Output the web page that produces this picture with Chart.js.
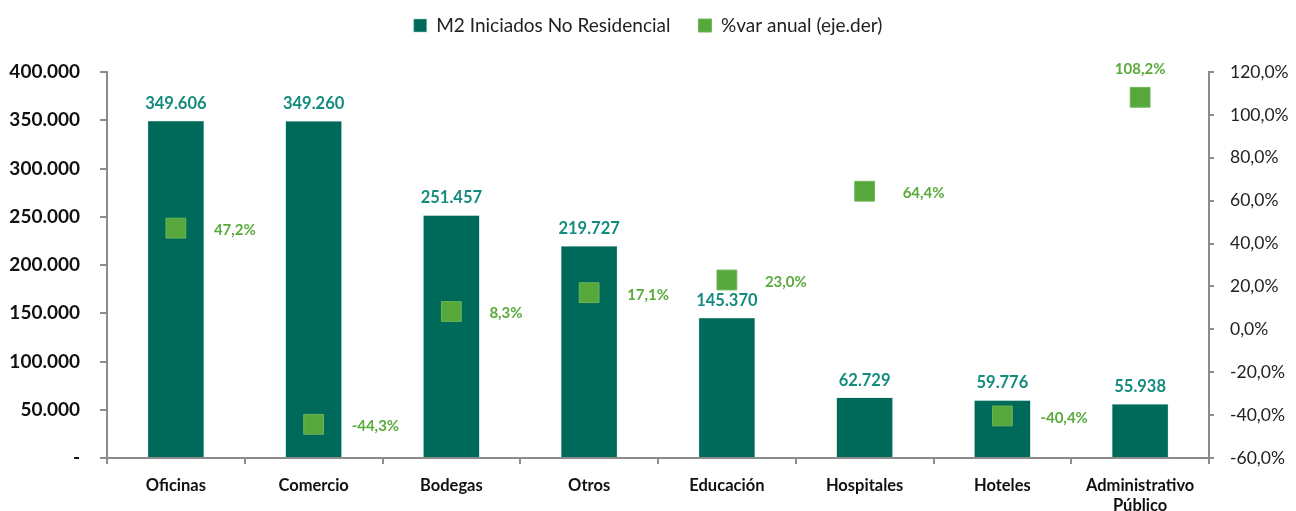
<!DOCTYPE html>
<html lang="es">
<head>
  <meta charset="UTF-8">
  <title>M2 Iniciados No Residencial</title>
  <script src="https://cdn.jsdelivr.net/npm/chart.js"></script>
  <style>
    html, body { margin:0; padding:0; background:#fff; }
    #wrap { width:1296px; height:511px; position:relative; }
  </style>
</head>
<body>
  <div id="wrap"><canvas id="chart"></canvas></div>

  <script>
    const categorias = ['Oficinas','Comercio','Bodegas','Otros','Educación','Hospitales','Hoteles',['Administrativo','Público']];
    const m2Iniciados = [349606, 349260, 251457, 219727, 145370, 62729, 59776, 55938];
    const varAnual = [47.2, -44.3, 8.3, 17.1, 23.0, 64.4, -40.4, 108.2];
    const ticksIzq = [0, 50000, 100000, 150000, 200000, 250000, 300000, 350000, 400000];
    const ticksDer = [-60, -40, -20, 0, 20, 40, 60, 80, 100, 120];

    const FONT = 'Lato, "Open Sans", sans-serif';
    const verde = '#006A5A';
    const verdeClaro = '#56A83C';
    const ejeColor = '#8C8C8C';

    const miles = v => v === 0 ? '-' : v.toString().replace(/\B(?=(\d{3})+(?!\d))/g, '.');
    const pct = v => v.toFixed(1).replace('.', ',') + '%';

    // alto fijo para la leyenda
    const altoLeyenda = {
      id: 'altoLeyenda',
      afterInit(chart) {
        const lg = chart.legend;
        const fitOrig = lg.fit;
        lg.fit = function () { fitOrig.call(this); this.height = 84; };
      }
    };

    // etiquetas de datos (barras y puntos)
    const etiquetas = {
      id: 'etiquetas',
      afterDatasetsDraw(chart) {
        const ctx = chart.ctx;
        ctx.save();
        chart.getDatasetMeta(0).data.forEach((bar, i) => {
          ctx.font = 'bold 16.5px ' + FONT;
          ctx.fillStyle = '#138B7D';
          ctx.textAlign = 'center';
          ctx.textBaseline = 'bottom';
          ctx.fillText(miles(m2Iniciados[i]), bar.x, bar.y - 9);
        });
        chart.getDatasetMeta(1).data.forEach((pt, i) => {
          ctx.font = 'bold 15px ' + FONT;
          ctx.fillStyle = '#5AAA3C';
          if (varAnual[i] > 100) {
            ctx.textAlign = 'center';
            ctx.textBaseline = 'bottom';
            ctx.fillText(pct(varAnual[i]), pt.x, pt.y - 21);
          } else {
            ctx.textAlign = 'left';
            ctx.textBaseline = 'middle';
            ctx.fillText(pct(varAnual[i]), pt.x + 38, pt.y + 2);
          }
        });
        ctx.restore();
      }
    };

    new Chart(document.getElementById('chart'), {
      data: {
        labels: categorias,
        datasets: [
          {
            type: 'bar',
            label: 'M2 Iniciados No Residencial',
            data: m2Iniciados,
            backgroundColor: verde,
            borderColor: '#9FC9BF',
            borderWidth: 0.5,
            barPercentage: 0.41,
            categoryPercentage: 1,
            yAxisID: 'y',
            order: 2
          },
          {
            type: 'line',
            label: '%var anual (eje.der)',
            data: varAnual,
            showLine: false,
            pointStyle: 'rect',
            pointRadius: 14,
            pointHoverRadius: 14,
            backgroundColor: verdeClaro,
            borderColor: '#6DB556',
            borderWidth: 1,
            yAxisID: 'y1',
            order: 1
          }
        ]
      },
      options: {
        responsive: true,
        maintainAspectRatio: false,
        animation: false,
        layout: { padding: { top: -12, right: 0, left: 0, bottom: 0 } },
        plugins: {
          legend: {
            position: 'top',
            labels: {
              boxWidth: 13, boxHeight: 13, padding: 28,
              color: '#222', font: { family: FONT, size: 19 },
              sort: (a, b) => a.datasetIndex - b.datasetIndex
            }
          },
          tooltip: { enabled: false }
        },
        scales: {
          x: {
            offset: true,
            grid: { offset: true, drawOnChartArea: false, drawTicks: true, tickLength: 6, color: ejeColor, lineWidth: 2 },
            border: { color: ejeColor, width: 2 },
            ticks: { color: '#111', font: { family: FONT, size: 16.5, weight: 'bold', lineHeight: 1.2 }, padding: 12, maxRotation: 0, autoSkip: false },
            afterFit(s) { s.height = 53; }
          },
          y: {
            position: 'left',
            min: 0, max: 400000,
            afterBuildTicks(s) { s.ticks = ticksIzq.map(v => ({ value: v })); },
            grid: { drawOnChartArea: false, drawTicks: true, tickLength: 7, color: ejeColor, lineWidth: 2 },
            border: { color: ejeColor, width: 2 },
            ticks: { color: '#111', font: { family: FONT, size: 19, weight: 'bold' }, padding: 20, callback: v => miles(v) },
            afterFit(s) { s.width = 107; }
          },
          y1: {
            position: 'right',
            min: -60, max: 120,
            afterBuildTicks(s) { s.ticks = ticksDer.map(v => ({ value: v })); },
            grid: { drawOnChartArea: false, drawTicks: true, tickLength: 5, color: ejeColor, lineWidth: 2 },
            border: { color: ejeColor, width: 2 },
            ticks: { color: '#222', font: { family: FONT, size: 17.5 }, padding: 16, callback: v => pct(v) },
            afterFit(s) { s.width = 87; }
          }
        }
      },
      plugins: [altoLeyenda, etiquetas]
    });
  </script>
</body>
</html>
